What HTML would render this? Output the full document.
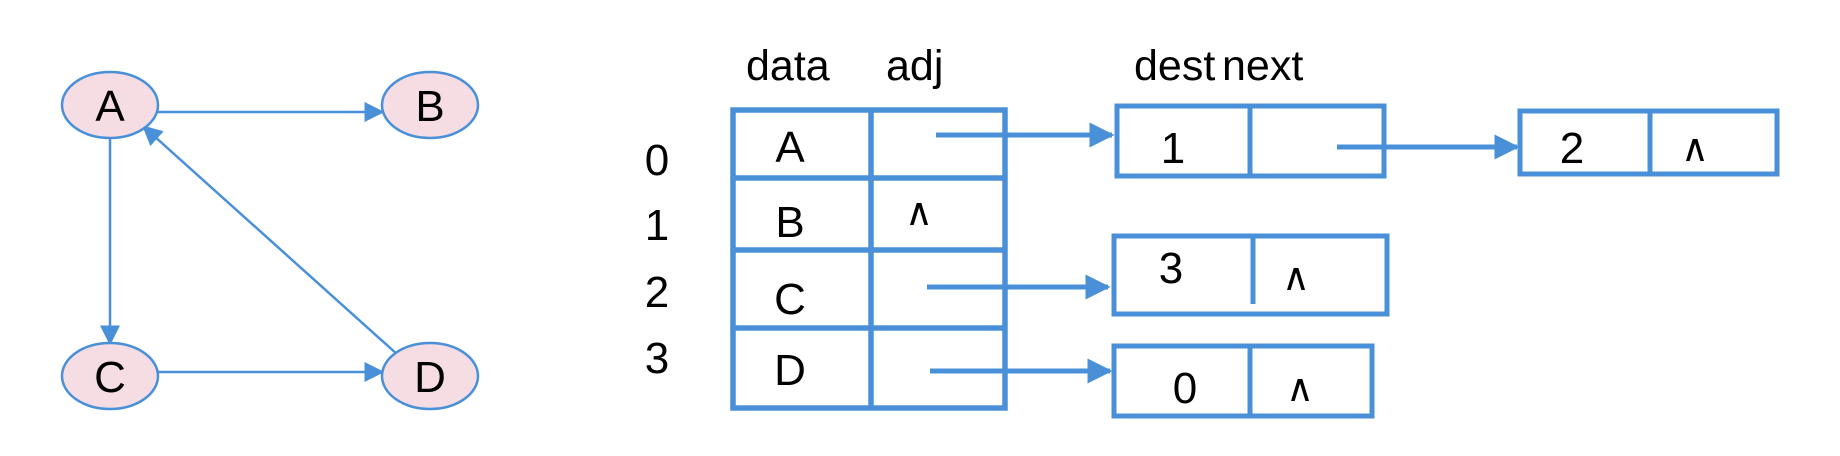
<!DOCTYPE html>
<html><head><meta charset="utf-8"><style>
html,body{margin:0;padding:0;background:#fff}
svg{display:block}
text{font-family:"Liberation Sans",Arial,sans-serif;fill:#000}
</style></head><body>
<svg width="1840" height="456" viewBox="0 0 1840 456">
<defs>
<marker id="ah" markerWidth="8" markerHeight="8" refX="7" refY="4" orient="auto" markerUnits="strokeWidth"><path d="M0,0 L8,4 L0,8 z" fill="#4a90d9"/></marker>
<marker id="ah2" markerWidth="5" markerHeight="5" refX="4.5" refY="2.5" orient="auto" markerUnits="strokeWidth"><path d="M0,0 L5,2.5 L0,5 z" fill="#4a90d9"/></marker>
</defs>
<g stroke="#4a90d9" stroke-width="2.5" fill="none">
<line x1="158" y1="112" x2="382" y2="112" marker-end="url(#ah)"/>
<line x1="110" y1="139" x2="110" y2="343" marker-end="url(#ah)"/>
<line x1="158" y1="372" x2="382" y2="372" marker-end="url(#ah)"/>
<line x1="398" y1="355" x2="144" y2="127" marker-end="url(#ah)"/>
<ellipse cx="110" cy="105" rx="48" ry="33" fill="#f6dce3"/>
<ellipse cx="430" cy="105" rx="48" ry="33" fill="#f6dce3"/>
<ellipse cx="110" cy="376" rx="48" ry="33" fill="#f6dce3"/>
<ellipse cx="430" cy="376" rx="48" ry="33" fill="#f6dce3"/>
</g>
<g font-size="44" text-anchor="middle">
<text x="110" y="121">A</text>
<text x="430" y="121">B</text>
<text x="110" y="392">C</text>
<text x="430" y="392">D</text>
</g>
<g font-size="43">
<text x="746" y="80">data</text>
<text x="886" y="80">adj</text>
<text x="1134" y="80">dest</text>
<text x="1222" y="80">next</text>
</g>
<g font-size="44" text-anchor="middle">
<text x="657" y="175">0</text><text x="657" y="240">1</text><text x="657" y="307">2</text><text x="657" y="373">3</text>
</g>
<g stroke="#4a90d9" stroke-width="5.5" fill="none">
<rect x="733" y="110" width="272" height="298"/>
<line x1="871" y1="110" x2="871" y2="408"/>
<line x1="733" y1="178" x2="1005" y2="178"/>
<line x1="733" y1="250" x2="1005" y2="250"/>
<line x1="733" y1="328" x2="1005" y2="328"/>
</g>
<g font-size="44" text-anchor="middle">
<text x="790" y="162">A</text>
<text x="790" y="237">B</text>
<text x="790" y="314">C</text>
<text x="790" y="385">D</text>
</g>
<g font-size="38" text-anchor="middle">
<text x="919" y="225">∧</text>
</g>
<g stroke="#4a90d9" stroke-width="5" fill="none">
<line x1="936" y1="135" x2="1112" y2="135" marker-end="url(#ah2)"/>
<line x1="927" y1="287" x2="1108" y2="287" marker-end="url(#ah2)"/>
<line x1="930" y1="371" x2="1110" y2="371" marker-end="url(#ah2)"/>
<line x1="1337" y1="147" x2="1517" y2="147" marker-end="url(#ah2)"/>
<g><rect x="1117" y="106" width="267" height="70"/><line x1="1250" y1="106" x2="1250" y2="176"/></g>
<g><rect x="1520" y="111" width="257" height="63"/><line x1="1650" y1="111" x2="1650" y2="174"/></g>
<g><rect x="1114" y="236" width="273" height="78"/><line x1="1253" y1="236" x2="1253" y2="304"/></g>
<g><rect x="1114" y="346" width="258" height="70"/><line x1="1250" y1="346" x2="1250" y2="416"/></g>
</g>
<g font-size="44" text-anchor="middle">
<text x="1173" y="163">1</text>
<text x="1572" y="163">2</text>
<text x="1171" y="283">3</text>
<text x="1185" y="403">0</text>
</g>
<g font-size="38" text-anchor="middle">
<text x="1695" y="161">∧</text>
<text x="1296" y="290">∧</text>
<text x="1300" y="401">∧</text>
</g>
</svg>
</body></html>
